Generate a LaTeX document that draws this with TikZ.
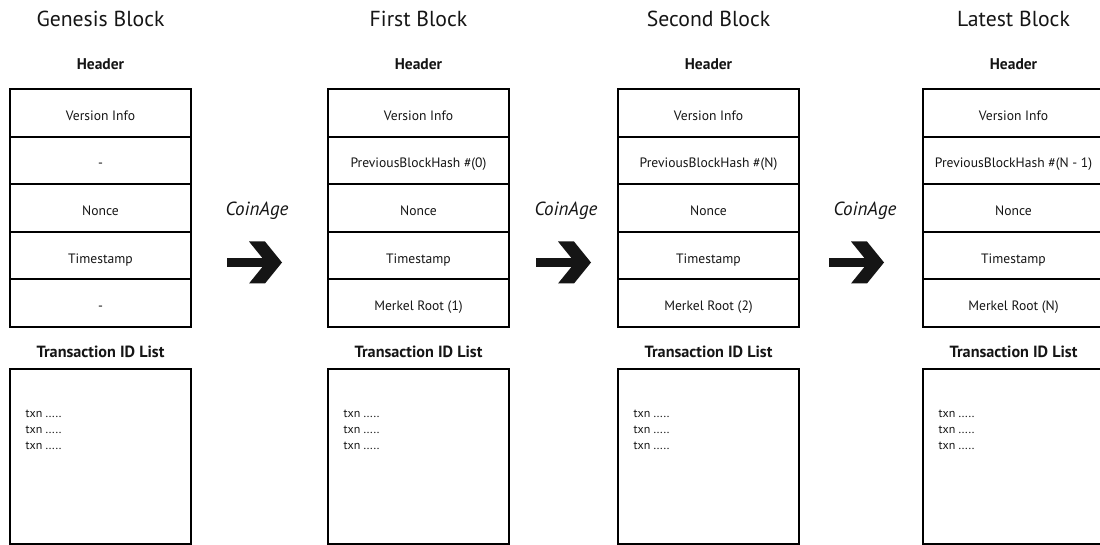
\documentclass[tikz,border=0pt]{standalone}
\usepackage{fontspec}
\setmainfont{PT Sans}
\definecolor{ink}{HTML}{151515}
\begin{document}
\begin{tikzpicture}[x=1pt,y=-1pt,
  blocktitle/.style={anchor=base, text=ink, font=\fontsize{21.7}{24}\selectfont},
  sectionlabel/.style={anchor=base, text=ink, font=\bfseries\fontsize{15.5}{18}\selectfont},
  listlabel/.style={anchor=base, text=ink, font=\bfseries\fontsize{16.2}{19}\selectfont},
  field/.style={draw=black, line width=2pt, minimum width=181pt, minimum height=47.6pt,
    inner sep=0pt, text height=15pt, text depth=0pt, text=ink,
    font=\fontsize{13.6}{16}\selectfont},
  listbox/.style={draw=black, line width=2pt, minimum width=181pt, minimum height=175pt, inner sep=0pt},
  txnline/.style={anchor=base west, inner sep=0pt, text=ink, font=\fontsize{12}{14}\selectfont},
  coinlabel/.style={anchor=base, text=ink, font=\itshape\fontsize{19}{22}\selectfont},
  chevarrow/.pic={
    \fill[ink] (-55,-4.5) rectangle (-14,4.5);
    \fill[ink] (0,0) -- (-17,-21) -- (-33,-21) -- (-16,0) -- (-33,21) -- (-17,21) -- cycle;
  }]
\useasboundingbox (0,0) rectangle (1100,545);

% one chain block: column name, centre x, title, second and fifth header fields
\foreach \col/\cx/\title/\prev/\root in {
    g/100.5/Genesis Block/-/-,
    a/418.5/First Block/PreviousBlockHash \#(0)/Merkel Root (1),
    b/708.5/Second Block/PreviousBlockHash \#(N)/Merkel Root (2),
    c/1013.5/Latest Block/PreviousBlockHash \#(N - 1)/Merkel Root (N)} {
  \node[blocktitle] (\col-title) at (\cx,27) {\title};
  \node[sectionlabel] (\col-header) at (\cx,70) {Header};
  \node[field] (\col-version) at (\cx,112.8) {Version Info};
  \node[field] (\col-prev) at (\cx,160.4) {\prev};
  \node[field] (\col-nonce) at (\cx,208.0) {Nonce};
  \node[field] (\col-time) at (\cx,255.6) {Timestamp};
  \node[field] (\col-root) at (\cx,303.2) {\root};
  \node[listlabel] (\col-txlabel) at (\cx,357) {Transaction ID List};
  \node[listbox] (\col-txbox) at (\cx,456.5) {};
  \node[txnline] (\col-txn1) at ([xshift=16.5pt]\col-txbox.west |- 0,417) {txn .....};
  \node[txnline] (\col-txn2) at ([xshift=16.5pt]\col-txbox.west |- 0,433) {txn .....};
  \node[txnline] (\col-txn3) at ([xshift=16.5pt]\col-txbox.west |- 0,449) {txn .....};
}

% CoinAge steps between consecutive blocks
\foreach \step/\lx/\tx in {s1/257/282, s2/566/591, s3/865/884} {
  \node[coinlabel] (\step-label) at (\lx,216) {CoinAge};
  \coordinate (\step-tip) at (\tx,262.5);
  \pic at (\step-tip) {chevarrow};
}
\end{tikzpicture}
\end{document}
